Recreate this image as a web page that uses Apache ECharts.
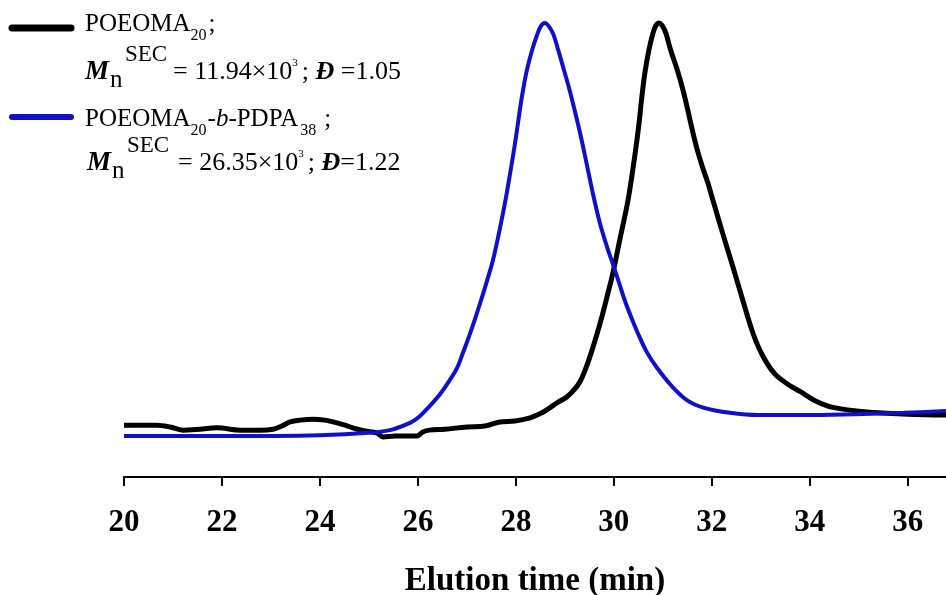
<!DOCTYPE html>
<html>
<head>
<meta charset="utf-8">
<script src="https://cdn.jsdelivr.net/npm/echarts@6/dist/echarts.min.js"></script>
<style>html,body{margin:0;padding:0;background:#fff}#c{width:946px;height:595px}</style>
</head>
<body>
<div id="c"></div>
<script>
// ---- data: [elution time (min), relative signal] ----
const poeomaCurve = [
  [20.00,11.4],[20.41,11.4],[20.67,11.4],[20.94,11.0],[21.20,10.3],[21.55,10.5],[21.90,10.8],[22.37,10.3],
  [22.78,10.3],[23.04,10.5],[23.22,11.2],[23.39,12.1],[23.59,12.5],[23.86,12.7],[24.10,12.5],[24.27,12.1],
  [24.51,11.4],[24.67,10.8],[24.92,10.1],[25.16,9.7],[25.29,8.8],[25.53,9.0],[25.84,9.0],[25.98,9.0],
  [26.10,9.9],[26.24,10.3],[26.55,10.5],[27.00,11.0],[27.37,11.2],[27.67,12.1],[27.98,12.3],[28.29,13.0],
  [28.53,14.1],[28.69,15.2],[28.84,16.3],[29.04,17.6],[29.20,19.3],[29.31,21.0],[29.41,23.4],[29.51,26.4],
  [29.65,31.2],[29.76,35.4],[29.86,39.6],[29.98,44.8],[30.12,52.1],[30.29,60.9],[30.43,70.8],[30.51,77.4],
  [30.57,83.4],[30.63,88.6],[30.71,93.6],[30.80,97.6],[30.86,99.3],[30.92,99.8],[30.98,99.3],[31.06,97.6],
  [31.16,93.8],[31.29,89.6],[31.41,85.1],[31.51,80.6],[31.59,76.8],[31.69,72.4],[31.80,68.4],[31.92,64.6],
  [32.02,60.9],[32.22,53.6],[32.43,46.2],[32.63,38.9],[32.84,31.6],[33.04,26.6],[33.29,22.6],[33.55,20.4],
  [33.80,18.8],[34.14,16.6],[34.47,15.3],[35.16,14.3],[36.00,13.8],[36.78,13.6]
];
const blockCurve = [
  [20.00,9.0],[22.00,9.0],[24.00,9.2],[25.00,9.7],[25.43,10.3],[25.84,11.9],[26.00,13.0],[26.24,15.6],
  [26.45,18.2],[26.65,21.3],[26.80,24.0],[26.92,27.3],[27.06,31.4],[27.18,35.2],[27.29,38.9],[27.39,42.4],
  [27.53,47.6],[27.65,53.4],[27.78,60.4],[27.88,66.6],[27.98,73.2],[28.04,77.6],[28.12,83.4],[28.22,89.2],
  [28.33,93.8],[28.43,97.1],[28.51,99.1],[28.59,99.8],[28.67,99.1],[28.76,97.4],[28.86,94.0],[28.98,89.5],
  [29.10,84.9],[29.20,80.6],[29.31,75.6],[29.43,69.6],[29.57,62.4],[29.71,56.0],[29.86,50.6],[29.98,46.8],
  [30.10,42.9],[30.22,38.9],[30.35,35.2],[30.49,31.6],[30.67,27.5],[30.88,24.0],[31.18,20.0],[31.49,16.9],
  [31.84,15.2],[32.37,14.1],[32.94,13.6],[33.92,13.6],[34.92,13.8],[35.92,14.1],[36.78,14.5]
];
const xTicks = [20,22,24,26,28,30,32,34,36];
const seriesNames = ['POEOMA20', 'POEOMA20-b-PDPA38'];

const SERIF = '"Liberation Serif","Times New Roman",serif';
const BLUE = '#1010cc';
const chart = echarts.init(document.getElementById('c'), null, {renderer: 'canvas'});

// ---- legend text layout (formula-like text) ----
const mctx = document.createElement('canvas').getContext('2d');
const graphics = [];
function fontOf(f) {
  return (f.i ? 'italic ' : '') + (f.b ? 'bold ' : '') + f.s + 'px ' + SERIF;
}
function run(frags, x0, base) {
  let x = x0;
  frags.forEach(f => {
    if (f.x !== undefined) x = f.x;
    const font = fontOf(f);
    mctx.font = font;
    const w = mctx.measureText(f.t).width;
    const bl = base + (f.dy || 0);
    graphics.push({
      type: 'text', x: x, y: bl - 0.34 * f.s, silent: true,
      style: {text: f.t, font: font, fill: '#000', align: 'left', verticalAlign: 'middle'}
    });
    x += w + (f.gap || 0);
  });
}
run([{t:'POEOMA', s:25}, {t:'20', s:16, dy:8, gap:2}, {t:';', s:25}], 85, 33);
run([{t:'M', s:27, b:1, i:1}, {t:'n', s:25, dy:8, x:110}, {t:'SEC', s:23, dy:-18, x:125},
     {t:'= 11.94\u00d710', s:26, x:173}, {t:'3', s:11, dy:-14, gap:4}, {t:'; ', s:26}, {t:'\u0110', s:26, b:1, i:1}, {t:' =1.05', s:26}], 85, 81);
run([{t:'POEOMA', s:25}, {t:'20', s:16, dy:8, gap:1}, {t:'-', s:25}, {t:'b', s:25, i:1}, {t:'-PDPA', s:25, gap:2}, {t:'38', s:16, dy:8, gap:8}, {t:';', s:25}], 85, 128);
run([{t:'M', s:27, b:1, i:1}, {t:'n', s:25, dy:8, x:112}, {t:'SEC', s:23, dy:-18, x:127},
     {t:'= 26.35\u00d710', s:26, x:178}, {t:'3', s:11, dy:-14, gap:4}, {t:'; ', s:26}, {t:'\u0110', s:26, b:1, i:1}, {t:'=1.22', s:26}], 87, 172);
graphics.push({type:'line', silent:true, shape:{x1:12, y1:28, x2:71, y2:28}, style:{stroke:'#000', lineWidth:7, lineCap:'round'}});
graphics.push({type:'line', silent:true, shape:{x1:12, y1:117, x2:71, y2:117}, style:{stroke:BLUE, lineWidth:6, lineCap:'round'}});

const option = {
  animation: false,
  backgroundColor: '#fff',
  grid: {left: 124, right: 0, top: 0, bottom: 118, containLabel: false, outerBoundsMode: 'none'},
  xAxis: {
    type: 'value', min: 20, max: 36.78, interval: 2,
    axisLine: {show: true, lineStyle: {color: '#000', width: 2}},
    axisTick: {show: true, inside: false, length: 9, lineStyle: {color: '#000', width: 2}, customValues: xTicks},
    axisLabel: {customValues: xTicks, color: '#000', fontFamily: SERIF, fontWeight: 'bold', fontSize: 31, margin: 30},
    splitLine: {show: false},
    name: 'Elution time (min)', nameLocation: 'middle', nameGap: 88,
    nameTextStyle: {color: '#000', fontFamily: SERIF, fontWeight: 'bold', fontSize: 33}
  },
  yAxis: {
    type: 'value', min: 0, max: 104.84, show: false, splitLine: {show: false}
  },
  series: [
    {name: seriesNames[0], type: 'line', showSymbol: false, smooth: 0.35, clip: true, z: 2,
     data: poeomaCurve, lineStyle: {color: '#000', width: 5}},
    {name: seriesNames[1], type: 'line', showSymbol: false, smooth: 0.35, clip: true, z: 3,
     data: blockCurve, lineStyle: {color: BLUE, width: 4}}
  ],
  graphic: graphics
};
chart.setOption(option);
</script>
</body>
</html>
